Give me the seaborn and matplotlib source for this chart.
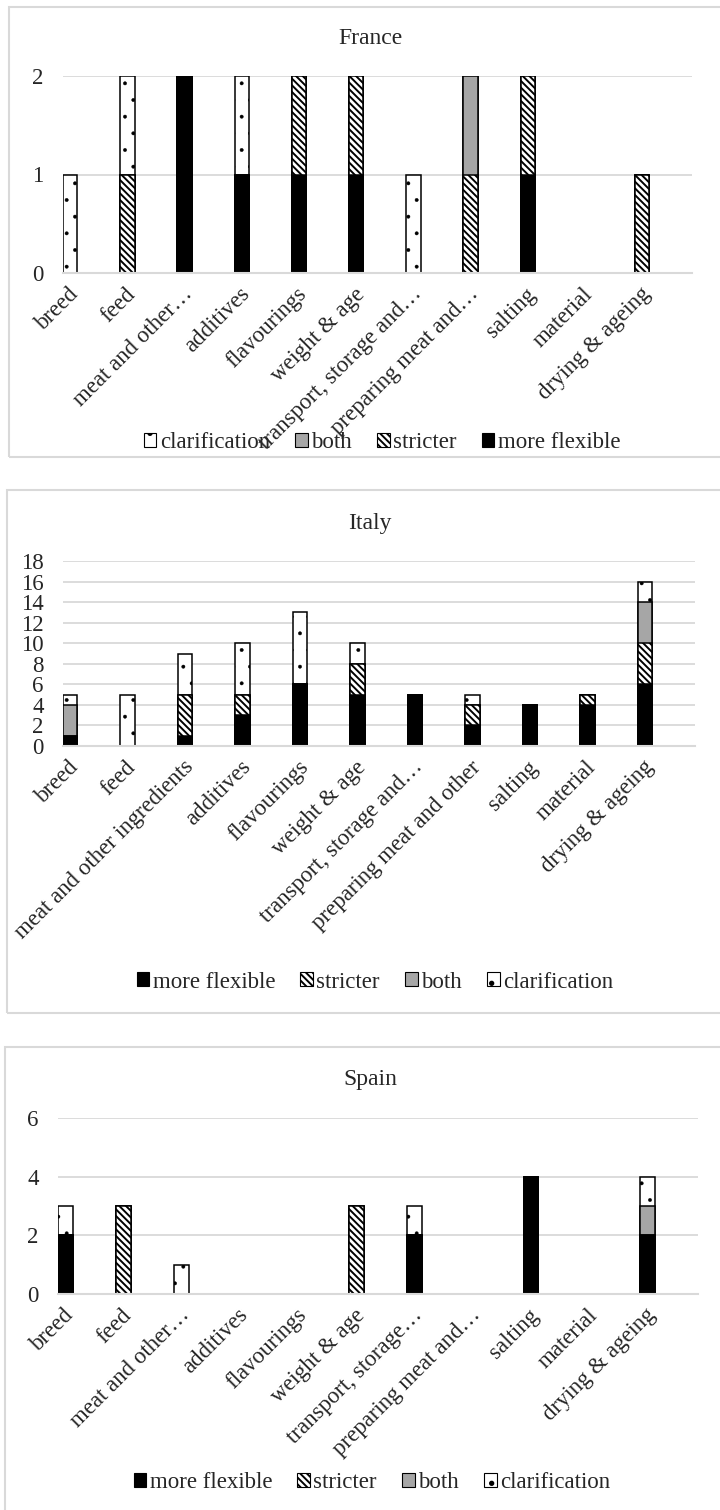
import numpy as np
import pandas as pd
import matplotlib
matplotlib.use("Agg")
import matplotlib.pyplot as plt
from matplotlib.patches import Patch, Rectangle
from matplotlib.transforms import ScaledTranslation
import seaborn as sns

# ---- data -------------------------------------------------------------
categories = ["breed", "feed", "meat and other ingredients", "additives",
              "flavourings", "weight & age", "transport, storage and…",
              "preparing meat and other", "salting", "material",
              "drying & ageing"]

france_labels = ["breed", "feed", "meat and other…", "additives", "flavourings",
                 "weight & age", "transport, storage and…", "preparing meat and…",
                 "salting", "material", "drying & ageing"]
italy_labels = ["breed", "feed", "meat and other ingredients", "additives",
                "flavourings", "weight & age", "transport, storage and…",
                "preparing meat and other", "salting", "material",
                "drying & ageing"]
spain_labels = ["breed", "feed", "meat and other…", "additives", "flavourings",
                "weight & age", "transport, storage…", "preparing meat and…",
                "salting", "material", "drying & ageing"]

series = ["more flexible", "stricter", "both", "clarification"]

france_more_flexible = [0, 0, 2, 1, 1, 1, 0, 0, 1, 0, 0]
france_stricter      = [0, 1, 0, 0, 1, 1, 0, 1, 1, 0, 1]
france_both          = [0, 0, 0, 0, 0, 0, 0, 1, 0, 0, 0]
france_clarification = [1, 1, 0, 1, 0, 0, 1, 0, 0, 0, 0]

italy_more_flexible = [1, 0, 1, 3, 6, 5, 5, 2, 4, 4, 6]
italy_stricter      = [0, 0, 4, 2, 0, 3, 0, 2, 0, 1, 4]
italy_both          = [3, 0, 0, 0, 0, 0, 0, 0, 0, 0, 4]
italy_clarification = [1, 5, 4, 5, 7, 2, 0, 1, 0, 0, 2]

spain_more_flexible = [2, 0, 0, 0, 0, 0, 2, 0, 4, 0, 2]
spain_stricter      = [0, 3, 0, 0, 0, 3, 0, 0, 0, 0, 0]
spain_both          = [0, 0, 0, 0, 0, 0, 0, 0, 0, 0, 1]
spain_clarification = [1, 0, 1, 0, 0, 0, 1, 0, 0, 0, 1]

france_ticks = [0, 1, 2]
italy_ticks = [0, 2, 4, 6, 8, 10, 12, 14, 16, 18]
spain_ticks = [0, 2, 4, 6]

# ---- styling ----------------------------------------------------------
sns.set_style("white")
plt.rcParams["font.family"] = ["Liberation Serif", "DejaVu Serif"]
plt.rcParams["hatch.linewidth"] = 1.4

STYLES = {
    "more flexible": dict(color="black", hatch=None, hlw=None),
    "stricter": dict(color="white", hatch="\\\\\\\\\\", hlw=1.4),
    "both": dict(color="#a6a6a6", hatch=None, hlw=None),
    "clarification": dict(color="white", hatch=".", hlw=0.3),
}
GRID = "#d9d9d9"
FS = 16.5

W, H = 720, 1510
fig = plt.figure(figsize=(W / 100, H / 100), dpi=100)


def fx(px):
    return px / W


def fy(py):
    return 1 - py / H


def set_hatch_width(patch, width):
    if width is not None and hasattr(patch, "set_hatch_linewidth"):
        patch.set_hatch_linewidth(width)


def panel_box(x0, y0, x1, y1):
    fig.add_artist(Rectangle((fx(x0), fy(y1)), fx(x1) - fx(x0), fy(y0) - fy(y1),
                             transform=fig.transFigure, fill=False,
                             edgecolor=GRID, linewidth=1.5, zorder=0))


def draw_panel(rect, values, labels, ticks, title, title_xy, legend_order, legend_xy):
    x0, y0, x1, y1 = rect
    ax = fig.add_axes([fx(x0), fy(y1), fx(x1) - fx(x0), fy(y0) - fy(y1)])
    table = pd.DataFrame(values, index=categories)[series]
    cum = table.cumsum(axis=1)
    # stacked columns: draw the running totals from the top segment down
    for name in reversed(series):
        d = pd.DataFrame({"category": categories, "value": cum[name].values})
        d = d[d["value"] > 0]
        if d.empty:
            continue
        st = STYLES[name]
        before = len(ax.patches)
        sns.barplot(data=d, x="category", y="value", order=categories, ax=ax,
                    width=0.25, saturation=1, errorbar=None, color=st["color"],
                    edgecolor="black", linewidth=1.1, hatch=st["hatch"])
        for p in ax.patches[before:]:
            set_hatch_width(p, st["hlw"])
    ax.set_xlim(-0.125, 10.87)
    ax.set_ylim(ticks[0], ticks[-1])
    ax.set_yticks(ticks)
    ax.set_yticklabels([str(t) for t in ticks], fontsize=FS)
    ax.set_xticks(range(len(categories)))
    ax.set_xticklabels(labels, fontsize=FS)
    ax.set_xlabel("")
    ax.set_ylabel("")
    ax.yaxis.grid(True, color=GRID, linewidth=1.3)
    ax.xaxis.grid(False)
    ax.set_axisbelow(True)
    for s in ["top", "right", "left"]:
        ax.spines[s].set_visible(False)
    ax.spines["bottom"].set_color(GRID)
    ax.spines["bottom"].set_linewidth(1.5)
    ax.tick_params(axis="both", length=0)
    ax.tick_params(axis="y", pad=14)
    ax.tick_params(axis="x", pad=13)
    shift = ScaledTranslation(0.05, 0, fig.dpi_scale_trans)
    for lbl in ax.get_xticklabels():
        lbl.set_rotation(45)
        lbl.set_horizontalalignment("right")
        lbl.set_verticalalignment("center")
        lbl.set_rotation_mode("anchor")
        lbl.set_transform(lbl.get_transform() + shift)
    fig.text(fx(title_xy[0]), fy(title_xy[1]), title, ha="center", va="center",
             fontsize=17)
    handles = []
    for n in legend_order:
        h = Patch(facecolor=STYLES[n]["color"], edgecolor="black",
                  hatch=STYLES[n]["hatch"], linewidth=0.8)
        set_hatch_width(h, STYLES[n]["hlw"])
        handles.append(h)
    fig.legend(handles, legend_order, loc="center",
               bbox_to_anchor=(fx(legend_xy[0]), fy(legend_xy[1])), ncol=4,
               frameon=False, fontsize=FS, handlelength=0.55, handleheight=0.55,
               handletextpad=0.15, columnspacing=1.1, borderaxespad=0)
    return ax


panel_box(9, 7, 725, 457)
panel_box(7, 490, 725, 1013)
panel_box(5, 1047, 725, 1520)

draw_panel((63, 76, 692, 273),
           {"more flexible": france_more_flexible, "stricter": france_stricter,
            "both": france_both, "clarification": france_clarification},
           france_labels, france_ticks, "France", (370, 38),
           ["clarification", "both", "stricter", "more flexible"], (382, 443))

draw_panel((63, 561, 695, 746),
           {"more flexible": italy_more_flexible, "stricter": italy_stricter,
            "both": italy_both, "clarification": italy_clarification},
           italy_labels, italy_ticks, "Italy", (370, 523),
           ["more flexible", "stricter", "both", "clarification"], (375, 982))

draw_panel((58, 1118, 698, 1294),
           {"more flexible": spain_more_flexible, "stricter": spain_stricter,
            "both": spain_both, "clarification": spain_clarification},
           spain_labels, spain_ticks, "Spain", (370, 1080),
           ["more flexible", "stricter", "both", "clarification"], (372, 1483))

fig.savefig("out.png", dpi=100)
